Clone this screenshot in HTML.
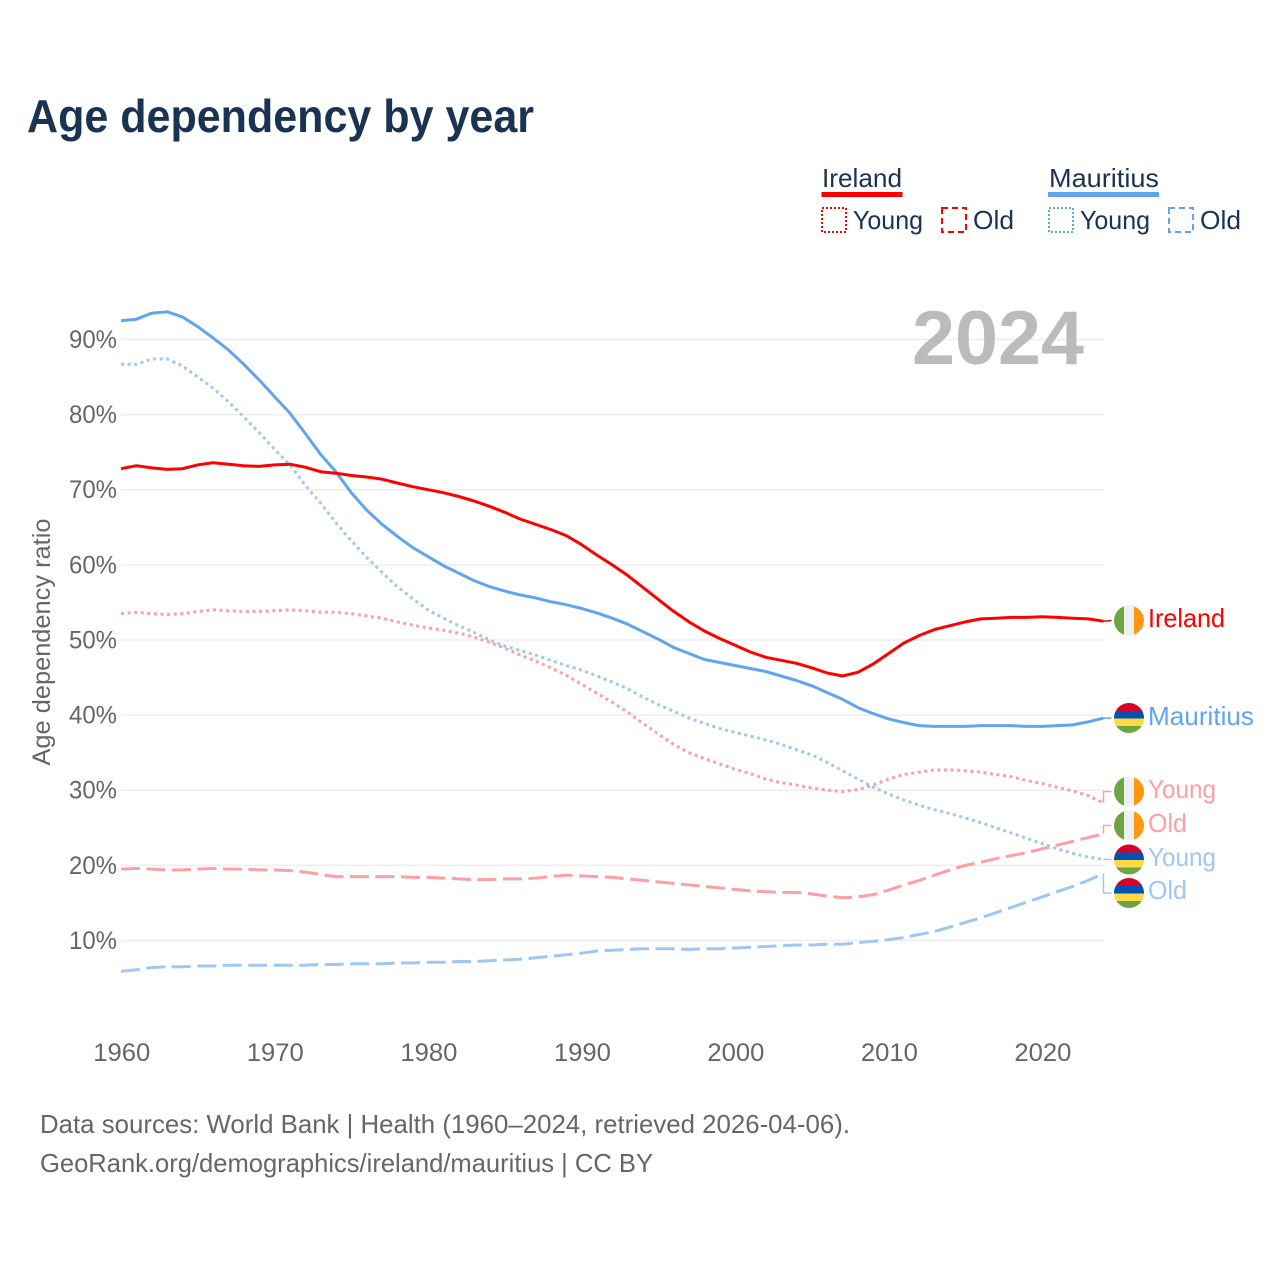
<!DOCTYPE html>
<html lang="en">
<head>
<meta charset="utf-8">
<title>Age dependency by year</title>
<style>
html,body{margin:0;padding:0;background:#fff;width:1280px;height:1280px;overflow:hidden}
svg{display:block;font-family:"Liberation Sans",sans-serif}
</style>
</head>
<body>
<svg id="chart" width="1280" height="1280" viewBox="0 0 1280 1280" xmlns="http://www.w3.org/2000/svg">
<defs>
<clipPath id="flag-clip"><circle cx="0" cy="0" r="15"/></clipPath>
</defs>
<rect width="1280" height="1280" fill="#fff"/>
<text x="27" y="132" font-size="46" font-weight="700" fill="#1a3352" textLength="507" lengthAdjust="spacingAndGlyphs">Age dependency by year</text>

<g>
<text x="822" y="187" font-size="26" fill="#1a3352" textLength="80" lengthAdjust="spacingAndGlyphs">Ireland</text>
<rect x="821.5" y="192" width="81" height="5" fill="#ff0000"/>
<rect x="822" y="208" width="24" height="24" fill="none" stroke="#ff0000" stroke-width="2" stroke-dasharray="2 2"/>
<text x="853" y="229" font-size="26" fill="#1a3352" textLength="70" lengthAdjust="spacingAndGlyphs">Young</text>
<rect x="942" y="208" width="24" height="24" fill="none" stroke="#ff0000" stroke-width="2" stroke-dasharray="6 4"/>
<text x="973" y="229" font-size="26" fill="#1a3352" textLength="41" lengthAdjust="spacingAndGlyphs">Old</text>
<text x="1049" y="187" font-size="26" fill="#1a3352" textLength="110" lengthAdjust="spacingAndGlyphs">Mauritius</text>
<rect x="1048" y="192" width="111" height="5" fill="#60a5ee"/>
<rect x="1049" y="208" width="24" height="24" fill="none" stroke="#60a5ee" stroke-width="2" stroke-dasharray="2 2"/>
<text x="1080" y="229" font-size="26" fill="#1a3352" textLength="70" lengthAdjust="spacingAndGlyphs">Young</text>
<rect x="1169" y="208" width="24" height="24" fill="none" stroke="#60a5ee" stroke-width="2" stroke-dasharray="6 4"/>
<text x="1200" y="229" font-size="26" fill="#1a3352" textLength="41" lengthAdjust="spacingAndGlyphs">Old</text>
</g>

<g id="grid"></g>
<g id="y-ticks"></g>
<g id="x-ticks"></g>
<text transform="translate(50,642) rotate(-90)" text-anchor="middle" font-size="25" fill="#666" textLength="247" lengthAdjust="spacingAndGlyphs">Age dependency ratio</text>
<text x="912" y="364" font-size="76" font-weight="700" fill="#bbbbbb" textLength="172" lengthAdjust="spacingAndGlyphs">2024</text>

<g id="series"></g>
<g id="end-labels"></g>

<text x="40" y="1133" font-size="26" fill="#666" textLength="810" lengthAdjust="spacingAndGlyphs">Data sources: World Bank | Health (1960–2024, retrieved 2026-04-06).</text>
<text x="40" y="1172" font-size="26" fill="#666" textLength="613" lengthAdjust="spacingAndGlyphs">GeoRank.org/demographics/ireland/mauritius | CC BY</text>
</svg>

<script>
const startYear = 1960;
const yTicks = [10, 20, 30, 40, 50, 60, 70, 80, 90];
const xTicks = [1960, 1970, 1980, 1990, 2000, 2010, 2020];

const irelandTotal = [72.8,73.2,72.9,72.7,72.8,73.3,73.6,73.4,73.2,73.1,73.3,73.4,73.0,72.4,72.2,71.9,71.7,71.4,70.9,70.4,
70.0,69.6,69.1,68.5,67.8,67.0,66.1,65.4,64.7,63.9,62.7,61.3,60.0,58.6,57.0,55.4,53.8,52.4,51.2,50.2,
49.3,48.4,47.7,47.3,46.9,46.3,45.6,45.2,45.7,46.8,48.2,49.6,50.6,51.4,51.9,52.4,52.8,52.9,53.0,53.0,
53.1,53.0,52.9,52.8,52.5];
const irelandYoung = [53.5,53.7,53.5,53.4,53.5,53.8,54.0,53.9,53.8,53.8,53.9,54.0,53.9,53.7,53.7,53.5,53.2,52.9,52.4,52.0,
51.6,51.3,50.9,50.4,49.7,48.9,48.0,47.2,46.3,45.3,44.1,42.9,41.7,40.4,38.9,37.5,36.1,35.0,34.2,33.5,
32.8,32.2,31.5,31.0,30.7,30.3,30.0,29.8,30.1,30.7,31.5,32.1,32.4,32.7,32.7,32.6,32.4,32.1,31.8,31.3,
30.9,30.4,29.9,29.3,28.3];
const irelandOld = [19.5,19.6,19.5,19.4,19.4,19.5,19.6,19.5,19.5,19.4,19.4,19.3,19.1,18.8,18.5,18.5,18.5,18.5,18.5,18.4,
18.4,18.3,18.2,18.1,18.1,18.2,18.2,18.3,18.5,18.7,18.6,18.5,18.4,18.2,18.0,17.8,17.6,17.4,17.2,17.0,
16.8,16.6,16.5,16.4,16.4,16.2,15.9,15.7,15.8,16.1,16.7,17.4,18.0,18.7,19.4,20.0,20.4,20.9,21.3,21.7,
22.2,22.7,23.2,23.7,24.2];
const mauritiusTotal = [92.5,92.7,93.5,93.7,93.0,91.7,90.2,88.6,86.7,84.6,82.4,80.2,77.5,74.7,72.4,69.6,67.3,65.4,63.8,62.3,
61.1,59.9,58.9,57.9,57.1,56.5,56.0,55.6,55.1,54.7,54.2,53.6,52.9,52.1,51.1,50.1,49.0,48.2,47.4,47.0,
46.6,46.2,45.8,45.2,44.6,43.9,43.0,42.1,41.0,40.2,39.5,39.0,38.6,38.5,38.5,38.5,38.6,38.6,38.6,38.5,
38.5,38.6,38.7,39.1,39.6];
const mauritiusYoung = [86.7,86.7,87.4,87.4,86.5,85.0,83.5,81.7,79.7,77.6,75.4,73.3,70.6,68.2,65.6,63.2,61.0,59.0,57.1,55.5,
54.0,52.9,51.9,51.0,50.0,49.2,48.6,48.0,47.3,46.6,46.0,45.2,44.4,43.5,42.4,41.4,40.5,39.6,38.9,38.2,
37.7,37.2,36.7,36.1,35.4,34.7,33.7,32.6,31.5,30.4,29.5,28.7,28.0,27.4,26.9,26.3,25.7,25.0,24.3,23.6,
22.9,22.2,21.6,21.1,20.8];
const mauritiusOld = [5.9,6.1,6.4,6.5,6.5,6.6,6.6,6.7,6.7,6.7,6.7,6.7,6.7,6.8,6.8,6.9,6.9,6.9,7.0,7.0,
7.1,7.1,7.2,7.2,7.3,7.4,7.5,7.7,7.9,8.1,8.3,8.6,8.7,8.8,8.9,8.9,8.9,8.8,8.9,8.9,
9.0,9.1,9.2,9.3,9.4,9.4,9.5,9.5,9.7,9.9,10.1,10.4,10.8,11.2,11.8,12.4,13.0,13.7,14.4,15.1,
15.8,16.5,17.2,18.0,18.9];

const NS = 'http://www.w3.org/2000/svg';
const plotLeft = 121, plotRight = 1103.5, gridRight = 1104;
function xScale(year) { return plotLeft + (year - startYear) * (plotRight - plotLeft) / 64; }
function yScale(value) { return 1015.6 - value * 7.5125; }
function make(tag, attrs, parent) {
  const el = document.createElementNS(NS, tag);
  for (const k in attrs) el.setAttribute(k, attrs[k]);
  parent.appendChild(el);
  return el;
}

const gridG = document.getElementById('grid');
const yG = document.getElementById('y-ticks');
const xG = document.getElementById('x-ticks');
yTicks.forEach(function (t) {
  const line = make('line', {x1: plotLeft, x2: gridRight, y1: yScale(t), y2: yScale(t), stroke: '#eeeeee', 'stroke-width': 1.5}, gridG);
  
  
  const label = make('text', {x: 117, y: yScale(t) + 8.5, 'text-anchor': 'end', 'font-size': 25, fill: '#666', textLength: 48, lengthAdjust: 'spacingAndGlyphs'}, yG);
  label.textContent = t + '%';
  
  
});
xTicks.forEach(function (t) {
  const label = make('text', {x: xScale(t) + 0.8, y: 1061, 'text-anchor': 'middle', 'font-size': 25, fill: '#666', textLength: 57, lengthAdjust: 'spacingAndGlyphs'}, xG);
  label.textContent = t;
  
  
});

const seriesG = document.getElementById('series');
function drawSeries(values, color, dash, name) {
  const pts = values.map(function (v, i) { return xScale(startYear + i).toFixed(1) + ',' + yScale(v).toFixed(1); }).join(' ');
  const attrs = {points: pts, fill: 'none', stroke: color, 'stroke-width': 3, 'stroke-linejoin': 'round'};
  if (dash) attrs['stroke-dasharray'] = dash;
  const line = make('polyline', attrs, seriesG);
  
  
}
drawSeries(mauritiusOld, '#9fc7f3', '19 6.5', 'line-mauritius-old');
drawSeries(irelandOld, '#ff9fa3', '19 6.5', 'line-ireland-old');
drawSeries(mauritiusYoung, '#9fc7f3', '3 3.6', 'line-mauritius-young');
drawSeries(irelandYoung, '#ff9fa3', '3 3.6', 'line-ireland-young');
drawSeries(mauritiusTotal, '#60a5ee', '', 'line-mauritius-total');
drawSeries(irelandTotal, '#ff0000', '', 'line-ireland-total');

const endG = document.getElementById('end-labels');
function irelandFlag(g) {
  const c = make('g', {'clip-path': 'url(#flag-clip)'}, g);
  make('rect', {x: -15, y: -15, width: 10, height: 30, fill: '#6da544'}, c);
  make('rect', {x: -5, y: -15, width: 10, height: 30, fill: '#f0f0f0'}, c);
  make('rect', {x: 5, y: -15, width: 10, height: 30, fill: '#ff9811'}, c);
}
function mauritiusFlag(g) {
  const c = make('g', {'clip-path': 'url(#flag-clip)'}, g);
  make('rect', {x: -15, y: -15, width: 30, height: 8, fill: '#d80027'}, c);
  make('rect', {x: -15, y: -7, width: 30, height: 7.5, fill: '#0052b4'}, c);
  make('rect', {x: -15, y: 0.5, width: 30, height: 7.5, fill: '#ffda44'}, c);
  make('rect', {x: -15, y: 8, width: 30, height: 7, fill: '#6da544'}, c);
}
function endLabel(values, text, labelY, flagY, color, flag, width, size, name) {
  const end = yScale(values[values.length - 1]);
  const lx = plotRight;
  const pts = Math.abs(end - flagY) < 2
    ? [[plotRight, end], [1111.5, flagY]]
    : [[lx, end], [lx, flagY], [1111.5, flagY]];
  const conn = make('polyline', {points: pts.map(function (p) { return p.join(','); }).join(' '), fill: 'none', stroke: color, 'stroke-width': 1.5}, endG);
  
  
  const g = make('g', {transform: 'translate(1129,' + flagY + ')'}, endG);
  
  
  flag(g);
  const t = make('text', {x: 1148, y: labelY, 'font-size': size, fill: color, textLength: width, lengthAdjust: 'spacingAndGlyphs'}, endG);
  t.textContent = text;
  
  
}
endLabel(irelandTotal, 'Ireland', 627, 620.5, '#ff0000', irelandFlag, 77, 26, 'ireland');
endLabel(mauritiusTotal, 'Mauritius', 725, 718, '#60a5ee', mauritiusFlag, 106, 26, 'mauritius');
endLabel(irelandYoung, 'Young', 798, 791.5, '#ff9fa3', irelandFlag, 68, 26, 'ireland-young');
endLabel(irelandOld, 'Old', 832, 825.5, '#ff9fa3', irelandFlag, 39, 26, 'ireland-old');
endLabel(mauritiusYoung, 'Young', 866, 859.5, '#9fc7f3', mauritiusFlag, 68, 26, 'mauritius-young');
endLabel(mauritiusOld, 'Old', 899, 893, '#9fc7f3', mauritiusFlag, 39, 26, 'mauritius-old');
</script>
</body>
</html>
